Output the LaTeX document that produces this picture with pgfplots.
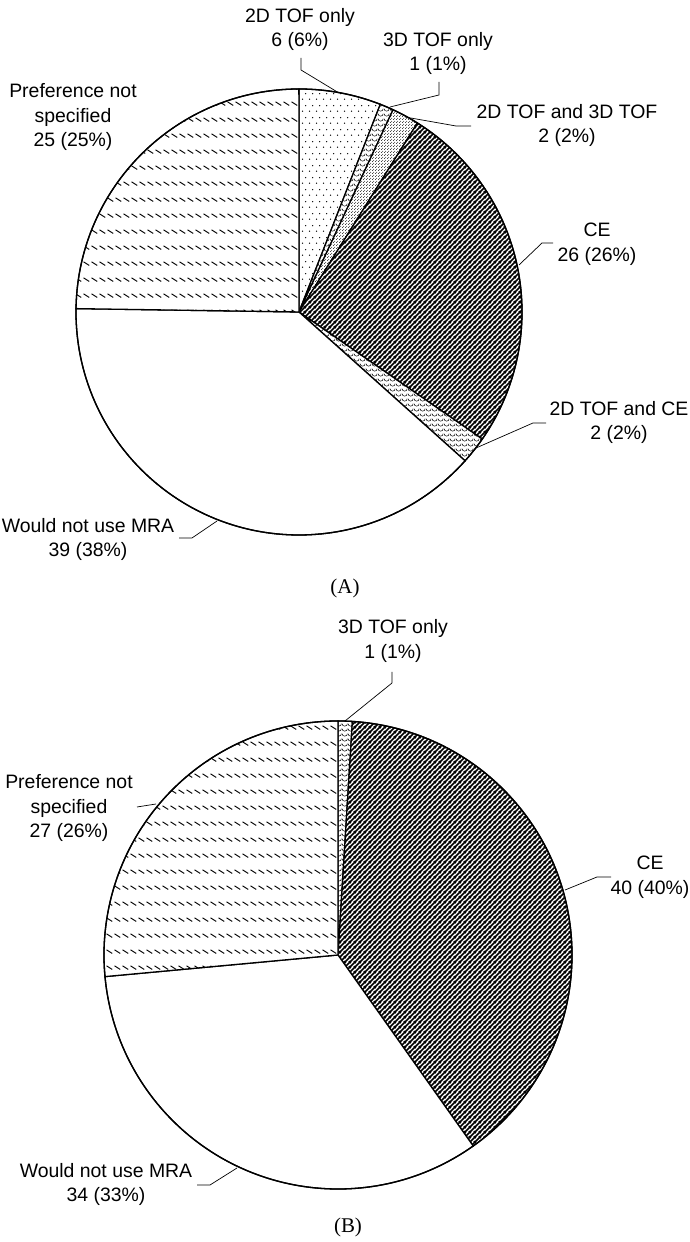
\documentclass[border=0pt]{standalone}
\usepackage{pgfplots}
\pgfplotsset{compat=1.18}
\usepackage{pgfplotstable}
\usetikzlibrary{patterns.meta}
\usepackage{fontspec}
\setmainfont{Liberation Sans}
\newfontfamily\capfont{Liberation Serif}

% fill patterns of the slices
\tikzdeclarepattern{name=ptsparse, tile size={(7bp,12bp)}, bounding box={(0,0) and (7bp,12bp)},
  code={\fill (1.75bp,3bp) circle (0.8bp); \fill (5.25bp,9bp) circle (0.8bp);}}
\tikzdeclarepattern{name=ptdense, tile size={(3bp,3bp)}, bounding box={(0,0) and (3bp,3bp)},
  code={\fill (0.75bp,0.75bp) circle (0.6bp); \fill (2.25bp,2.25bp) circle (0.6bp);}}
\tikzdeclarepattern{name=ptce, tile size={(5bp,5bp)}, bounding box={(0,0) and (5bp,5bp)},
  code={\draw[line width=1.9bp] (-1bp,-1bp) -- (6bp,6bp) (-1bp,4bp) -- (1bp,6bp) (4bp,-1bp) -- (6bp,1bp);}}
\tikzdeclarepattern{name=ptpref, tile size={(7.5bp,16bp)}, bounding box={(0,0) and (7.5bp,16bp)},
  code={\draw[line width=1bp] (0.6bp,4.4bp) -- (6.6bp,0.6bp);}}
\tikzdeclarepattern{name=ptscallop, tile size={(6bp,5bp)}, bounding box={(0,0) and (6bp,5bp)},
  code={\draw[line width=0.6bp] (0,4bp) arc[start angle=180, end angle=360, radius=3bp];}}
\tikzdeclarepattern{name=ptblank, tile size={(6bp,6bp)}, bounding box={(0,0) and (6bp,6bp)},
  code={\pgfpathmoveto{\pgfpointorigin}\pgfusepath{}}}

\tikzset{lbl/.style={align=center, inner sep=0pt, font=\fontsize{19.5}{25}\selectfont},
  captxt/.style={inner sep=0pt, font=\capfont\fontsize{21}{25}\selectfont},
  lead/.style={line width=0.7bp}}

% slices, clockwise from 12 o'clock
\pgfplotstableread{
slice count pat
2DTOF 6 ptsparse
3DTOF 1 ptscallop
2D3D 2 ptdense
CE 26 ptce
2DCE 2 ptscallop
NoMRA 39 ptblank
NotSpec 25 ptpref
}\pieA

\pgfplotstableread{
slice count pat
3DTOF 1 ptscallop
CE 40 ptce
NoMRA 34 ptblank
NotSpec 27 ptpref
}\pieB

% #1 table, #2 centre x, #3 centre y, #4 radius (axis units = bp)
\newcommand\drawpie[4]{%
  \pgfplotstablegetrowsof{#1}%
  \pgfmathtruncatemacro\nlast{\pgfplotsretval-1}%
  \def\pietotal{0}%
  \pgfplotsforeachungrouped \i in {0,...,\nlast}{%
    \pgfplotstablegetelem{\i}{count}\of#1%
    \pgfmathsetmacro\pietotal{\pietotal+\pgfplotsretval}}%
  \def\angstart{90}%
  \pgfplotsforeachungrouped \i in {0,...,\nlast}{%
    \pgfplotstablegetelem{\i}{count}\of#1\let\cnt\pgfplotsretval
    \pgfplotstablegetelem{\i}{pat}\of#1\let\pat\pgfplotsretval
    \pgfmathsetmacro\angend{\angstart-\cnt/\pietotal*360}%
    \edef\doslice{\noexpand\filldraw[line width=1.3bp, fill=white, postaction={pattern=\pat}]
      (axis cs:#2,#3) -- ++(\angstart:#4bp) arc[start angle=\angstart, end angle=\angend, radius=#4bp] -- cycle;}%
    \doslice
    \let\angstart\angend}%
  \edef\doline{\noexpand\draw[line width=1.3bp] (axis cs:#2,#3) circle[radius=#4bp];}%
  \doline}

\begin{document}
\begin{tikzpicture}
\begin{axis}[
  x=1bp, y=1bp,
  xmin=0, xmax=690, ymin=0, ymax=1242,
  hide axis, clip=false,
]
\path (axis cs:0,0) rectangle (axis cs:690,1242);

% (A)
\drawpie{\pieA}{299}{930}{223}
\node[lbl] at (axis cs:300,1212.5) {2D TOF only\\6 (6\%)};
\node[lbl] at (axis cs:438,1188.5) {3D TOF only\\1 (1\%)};
\node[lbl] at (axis cs:73,1125) {Preference not\\specified\\25 (25\%)};
\node[lbl] at (axis cs:567,1116.5) {2D TOF and 3D TOF\\2 (2\%)};
\node[lbl] at (axis cs:597,997.5) {CE\\26 (26\%)};
\node[lbl] at (axis cs:619,819.5) {2D TOF and CE\\2 (2\%)};
\node[lbl] at (axis cs:88,702.5) {Would not use MRA\\39 (38\%)};
\node[captxt] at (axis cs:345,654) {(A)};
\draw[lead] (axis cs:301,1184) -- (axis cs:301,1172) -- (axis cs:339,1149);
\draw[lead] (axis cs:439,1160) -- (axis cs:439,1147) -- (axis cs:390,1135);
\draw[lead] (axis cs:471,1116) -- (axis cs:456,1116) -- (axis cs:405,1125);
\draw[lead] (axis cs:553,999) -- (axis cs:542,999) -- (axis cs:519,977);
\draw[lead] (axis cs:546,819) -- (axis cs:533,819) -- (axis cs:476,794);
\draw[lead] (axis cs:179,704) -- (axis cs:192,704) -- (axis cs:217,721);

% (B)
\drawpie{\pieB}{338}{287}{234}
\node[lbl] at (axis cs:393,601) {3D TOF only\\1 (1\%)};
\node[lbl] at (axis cs:69,434) {Preference not\\specified\\27 (26\%)};
\node[lbl] at (axis cs:650,365) {CE\\40 (40\%)};
\node[lbl] at (axis cs:106,57.5) {Would not use MRA\\34 (33\%)};
\node[captxt] at (axis cs:348,15) {(B)};
\draw[lead] (axis cs:392,570) -- (axis cs:392,559) -- (axis cs:345,521);
\draw[lead] (axis cs:137,435) -- (axis cs:156,438);
\draw[lead] (axis cs:611,365) -- (axis cs:597,365) -- (axis cs:565,352);
\draw[lead] (axis cs:197,57) -- (axis cs:210,57) -- (axis cs:237,74);
\end{axis}
\end{tikzpicture}
\end{document}
